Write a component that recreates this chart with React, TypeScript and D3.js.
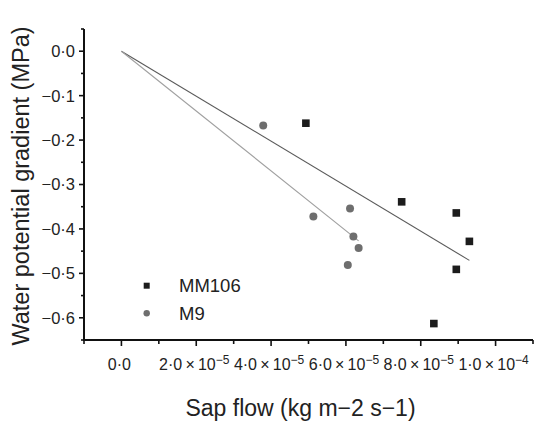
import React from "react";
import * as d3 from "d3";

const mm106X = [4.93e-5, 7.49e-5, 8.95e-5, 9.3e-5, 8.95e-5, 8.35e-5];
const mm106Y = [-0.162, -0.339, -0.364, -0.428, -0.491, -0.613];
const m9X = [3.79e-5, 5.13e-5, 6.11e-5, 6.2e-5, 6.34e-5, 6.05e-5];
const m9Y = [-0.167, -0.372, -0.354, -0.417, -0.443, -0.481];
const yMajor = [0, -0.1, -0.2, -0.3, -0.4, -0.5, -0.6];
const yMinor = [0.05, -0.05, -0.15, -0.25, -0.35, -0.45, -0.55, -0.65];
const xMajor = [0, 2e-5, 4e-5, 6e-5, 8e-5, 1e-4];
const xMinor = [-1e-5, 1e-5, 3e-5, 5e-5, 7e-5, 9e-5, 1.1e-4];
const seriesNames = ["MM106", "M9"];

const W = 541, H = 424;
const left = 84, right = 533, top = 29, bottom = 340;
const font = "'Liberation Sans', Arial, Helvetica, sans-serif";

function fitThroughOrigin(xs: number[], ys: number[]) {
  const sxy = d3.sum(xs.map((x, i) => x * ys[i]));
  const sxx = d3.sum(xs.map((x) => x * x));
  return sxy / sxx;
}

function yLabel(d: number) {
  const s = Math.abs(d).toFixed(1).replace(".", "·");
  return d < 0 ? "−" + s : s;
}

export default function App() {
  const x = d3.scaleLinear().domain([-1e-5, 1.1e-4]).range([left, right]);
  const y = d3.scaleLinear().domain([-0.65, 0.05]).range([bottom, top]);

  const kMM = fitThroughOrigin(mm106X, mm106Y);
  const kM9 = fitThroughOrigin(m9X, m9Y);
  const line = d3.line<[number, number]>().x((d) => x(d[0])).y((d) => y(d[1]));
  const mmMax = d3.max(mm106X) as number;
  const m9Max = d3.max(m9X) as number;

  return (
    <svg width={W} height={H} style={{ position: "absolute", left: 0, top: 0, background: "#fff" }} fontFamily={font}>
      {/* fit lines */}
      <path d={line([[0, 0], [mmMax, kMM * mmMax]]) || ""} stroke="#5a5a5a" strokeWidth={1.1} fill="none" />
      <path d={line([[0, 0], [m9Max, kM9 * m9Max]]) || ""} stroke="#a0a0a0" strokeWidth={1.1} fill="none" />

      {/* points */}
      {m9X.map((v, i) => (
        <circle key={"c" + i} cx={x(v)} cy={y(m9Y[i])} r={4} fill="#6e6e6e" />
      ))}
      {mm106X.map((v, i) => (
        <rect key={"s" + i} x={x(v) - 3.8} y={y(mm106Y[i]) - 3.8} width={7.6} height={7.6} fill="#1c1c1c" />
      ))}

      {/* axes */}
      <line x1={left} x2={left} y1={top} y2={bottom + 1} stroke="#111" strokeWidth={2} />
      <line x1={left - 1} x2={right} y1={bottom} y2={bottom} stroke="#111" strokeWidth={2} />
      {yMajor.map((d) => (
        <g key={"ym" + d}>
          <line x1={left - 5} x2={left} y1={y(d)} y2={y(d)} stroke="#111" strokeWidth={1.6} />
          <text x={left - 9} y={y(d)} dy="0.36em" textAnchor="end" fontSize={16.5} fill="#222">
            {yLabel(d)}
          </text>
        </g>
      ))}
      {yMinor.map((d) => (
        <line key={"yn" + d} x1={left - 3} x2={left} y1={y(d)} y2={y(d)} stroke="#111" strokeWidth={1.6} />
      ))}
      {xMajor.map((d) => {
        const exp = d === 0 ? 0 : Math.floor(Math.log10(d) + 1e-9);
        const mant = d === 0 ? 0 : d / Math.pow(10, exp);
        return (
          <g key={"xm" + d}>
            <line x1={x(d)} x2={x(d)} y1={bottom} y2={bottom + 6} stroke="#111" strokeWidth={1.6} />
            <text x={x(d) - 2} y={370} textAnchor="middle" fontSize={16} fill="#222">
              {d === 0 ? (
                "0·0"
              ) : (
                <>
                  {mant.toFixed(1).replace(".", "·") + "\u2009×\u200910"}
                  <tspan dy={-6} fontSize={12}>{"−" + Math.abs(exp)}</tspan>
                </>
              )}
            </text>
          </g>
        );
      })}
      {xMinor.map((d) => (
        <line key={"xn" + d} x1={x(d)} x2={x(d)} y1={bottom} y2={bottom + 4} stroke="#111" strokeWidth={1.6} />
      ))}

      {/* legend */}
      <rect x={146.7 - 3} y={285.7 - 3} width={6} height={6} fill="#1c1c1c" />
      <text x={179} y={292} fontSize={18.5} fill="#222">{seriesNames[0]}</text>
      <circle cx={146.7} cy={313.3} r={3.2} fill="#6e6e6e" />
      <text x={179} y={320} fontSize={18.5} fill="#222">{seriesNames[1]}</text>

      {/* axis titles */}
      <text x={300.5} y={416} textAnchor="middle" fontSize={23} fill="#222">
        Sap flow (kg m−2 s−1)
      </text>
      <text transform="translate(29,186) rotate(-90)" textAnchor="middle" fontSize={23.5} fill="#222">
        Water potential gradient (MPa)
      </text>
    </svg>
  );
}
